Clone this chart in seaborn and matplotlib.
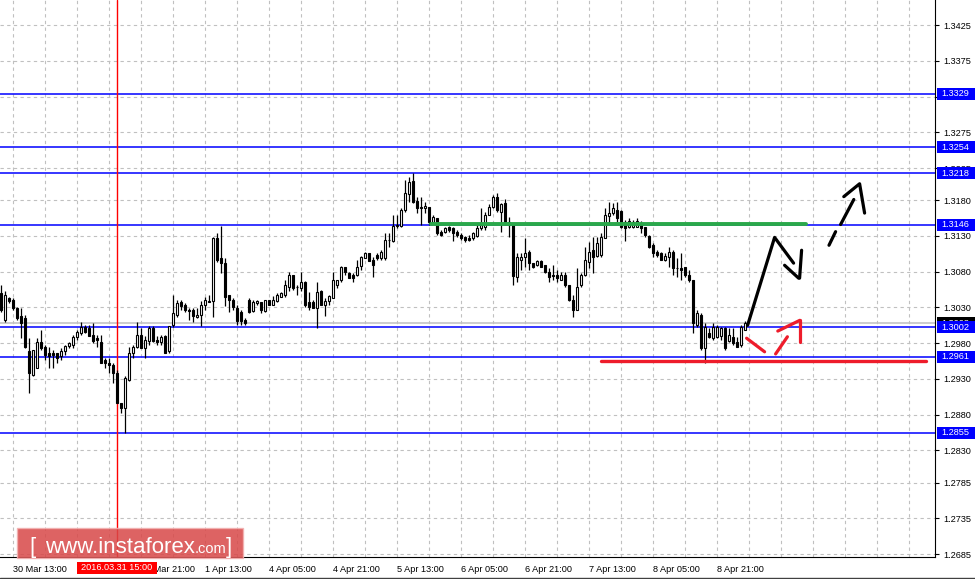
import numpy as np
import pandas as pd
import matplotlib
matplotlib.use('Agg')
import matplotlib.pyplot as plt
import matplotlib.transforms as mtransforms
from matplotlib.patches import Rectangle
from matplotlib.lines import Line2D
import seaborn as sns

# GBPUSD H1 candles, 30 Mar 10:00 -> 8 Apr
opens = [
    1.3050, 1.3012, 1.3043, 1.3040, 1.3029, 1.3018, 1.3015, 1.2969, 1.2936, 1.2946,
    1.2981, 1.2974, 1.2966, 1.2966, 1.2966, 1.2962, 1.2969, 1.2976, 1.2978, 1.2988,
    1.2994, 1.3002, 1.3001, 1.2991, 1.2987, 1.2981, 1.2957, 1.2953, 1.2950, 1.2938,
    1.2896, 1.2890, 1.2929, 1.2967, 1.2974, 1.2992, 1.2973, 1.2983, 1.3001, 1.2984,
    1.2981, 1.2990, 1.2969, 1.3005, 1.3019, 1.3037, 1.3034, 1.3026, 1.3027, 1.3016,
    1.3019, 1.3033, 1.3039, 1.3039, 1.3127, 1.3099, 1.3092, 1.3047, 1.3040, 1.3029,
    1.3023, 1.3012, 1.3041, 1.3025, 1.3036, 1.3037, 1.3025, 1.3040, 1.3034, 1.3039,
    1.3044, 1.3048, 1.3058, 1.3075, 1.3058, 1.3057, 1.3065, 1.3037, 1.3037, 1.3029,
    1.3053, 1.3034, 1.3039, 1.3043, 1.3061, 1.3068, 1.3086, 1.3078, 1.3075, 1.3075,
    1.3088, 1.3099, 1.3106, 1.3096, 1.3104, 1.3099, 1.3099, 1.3124, 1.3123, 1.3144,
    1.3144, 1.3166, 1.3188, 1.3207, 1.3179, 1.3170, 1.3169, 1.3170, 1.3149, 1.3155,
    1.3135, 1.3135, 1.3142, 1.3141, 1.3135, 1.3132, 1.3128, 1.3127, 1.3127, 1.3130,
    1.3141, 1.3142, 1.3159, 1.3170, 1.3184, 1.3163, 1.3176, 1.3145, 1.3148, 1.3072,
    1.3097, 1.3100, 1.3107, 1.3092, 1.3089, 1.3095, 1.3089, 1.3079, 1.3076, 1.3075,
    1.3069, 1.3075, 1.3062, 1.3040, 1.3027, 1.3061, 1.3075, 1.3093, 1.3110, 1.3102,
    1.3103, 1.3127, 1.3158, 1.3162, 1.3166, 1.3165, 1.3149, 1.3142, 1.3142, 1.3142,
    1.3148, 1.3142, 1.3130, 1.3117, 1.3107, 1.3106, 1.3097, 1.3100, 1.3107, 1.3085,
    1.3085, 1.3086, 1.3076, 1.3068, 1.3006, 1.3020, 1.2973, 1.2994, 1.2987, 1.2988,
    1.2990, 1.3001, 1.2983, 1.2988, 1.2981, 1.2977, 1.2999,
]
highs = [
    1.3061, 1.3053, 1.3044, 1.3043, 1.3030, 1.3029, 1.3019, 1.2987, 1.2970, 1.2987,
    1.2998, 1.2977, 1.2974, 1.2970, 1.2967, 1.2973, 1.2977, 1.2981, 1.2992, 1.2998,
    1.3009, 1.3006, 1.3005, 1.3008, 1.2991, 1.2991, 1.2960, 1.2959, 1.2952, 1.2942,
    1.2897, 1.2934, 1.2974, 1.2978, 1.3009, 1.3001, 1.2990, 1.3004, 1.3004, 1.2990,
    1.2991, 1.2992, 1.3004, 1.3048, 1.3040, 1.3040, 1.3036, 1.3029, 1.3029, 1.3029,
    1.3039, 1.3044, 1.3047, 1.3128, 1.3134, 1.3144, 1.3099, 1.3047, 1.3043, 1.3033,
    1.3026, 1.3015, 1.3043, 1.3041, 1.3040, 1.3037, 1.3041, 1.3041, 1.3046, 1.3050,
    1.3051, 1.3068, 1.3079, 1.3075, 1.3062, 1.3079, 1.3067, 1.3051, 1.3040, 1.3065,
    1.3054, 1.3043, 1.3047, 1.3079, 1.3069, 1.3088, 1.3086, 1.3079, 1.3078, 1.3097,
    1.3102, 1.3107, 1.3106, 1.3100, 1.3106, 1.3110, 1.3134, 1.3134, 1.3159, 1.3159,
    1.3169, 1.3208, 1.3212, 1.3218, 1.3184, 1.3184, 1.3177, 1.3170, 1.3159, 1.3155,
    1.3138, 1.3142, 1.3144, 1.3142, 1.3138, 1.3134, 1.3130, 1.3131, 1.3135, 1.3148,
    1.3169, 1.3163, 1.3174, 1.3187, 1.3190, 1.3176, 1.3181, 1.3156, 1.3148, 1.3106,
    1.3106, 1.3127, 1.3110, 1.3092, 1.3096, 1.3096, 1.3089, 1.3085, 1.3089, 1.3082,
    1.3079, 1.3079, 1.3062, 1.3047, 1.3085, 1.3078, 1.3114, 1.3121, 1.3128, 1.3128,
    1.3134, 1.3169, 1.3177, 1.3176, 1.3177, 1.3166, 1.3152, 1.3155, 1.3153, 1.3155,
    1.3151, 1.3142, 1.3131, 1.3120, 1.3110, 1.3107, 1.3106, 1.3114, 1.3110, 1.3099,
    1.3106, 1.3086, 1.3082, 1.3068, 1.3026, 1.3022, 1.3008, 1.3001, 1.3008, 1.3005,
    1.3002, 1.3002, 1.3001, 1.3001, 1.2988, 1.3005, 1.3011,
]
lows = [
    1.3023, 1.3009, 1.3036, 1.3026, 1.3012, 1.2987, 1.2973, 1.2911, 1.2934, 1.2945,
    1.2970, 1.2956, 1.2946, 1.2946, 1.2952, 1.2956, 1.2963, 1.2973, 1.2973, 1.2984,
    1.2991, 1.2994, 1.2990, 1.2980, 1.2974, 1.2953, 1.2946, 1.2939, 1.2924, 1.2897,
    1.2882, 1.2855, 1.2927, 1.2959, 1.2973, 1.2973, 1.2960, 1.2978, 1.2981, 1.2977,
    1.2977, 1.2967, 1.2967, 1.3002, 1.3016, 1.3026, 1.3023, 1.3012, 1.3009, 1.3015,
    1.3004, 1.3026, 1.3037, 1.3016, 1.3093, 1.3078, 1.3032, 1.3023, 1.3026, 1.3006,
    1.3005, 1.3005, 1.3022, 1.3023, 1.3033, 1.3022, 1.3023, 1.3033, 1.3033, 1.3037,
    1.3044, 1.3044, 1.3053, 1.3054, 1.3048, 1.3053, 1.3030, 1.3027, 1.3029, 1.3001,
    1.3033, 1.3018, 1.3034, 1.3043, 1.3057, 1.3065, 1.3075, 1.3071, 1.3065, 1.3074,
    1.3083, 1.3099, 1.3095, 1.3072, 1.3096, 1.3096, 1.3097, 1.3114, 1.3121, 1.3141,
    1.3142, 1.3163, 1.3177, 1.3176, 1.3162, 1.3145, 1.3162, 1.3145, 1.3149, 1.3132,
    1.3130, 1.3134, 1.3135, 1.3123, 1.3128, 1.3124, 1.3121, 1.3123, 1.3124, 1.3128,
    1.3138, 1.3138, 1.3159, 1.3169, 1.3163, 1.3135, 1.3145, 1.3128, 1.3061, 1.3065,
    1.3082, 1.3086, 1.3082, 1.3085, 1.3088, 1.3086, 1.3078, 1.3065, 1.3068, 1.3065,
    1.3068, 1.3058, 1.3039, 1.3016, 1.3026, 1.3058, 1.3074, 1.3085, 1.3078, 1.3100,
    1.3100, 1.3127, 1.3148, 1.3159, 1.3149, 1.3141, 1.3123, 1.3141, 1.3141, 1.3142,
    1.3134, 1.3128, 1.3113, 1.3100, 1.3100, 1.3096, 1.3095, 1.3086, 1.3075, 1.3072,
    1.3068, 1.3072, 1.3065, 1.2994, 1.3002, 1.2970, 1.2952, 1.2987, 1.2985, 1.2987,
    1.2984, 1.2971, 1.2981, 1.2978, 1.2974, 1.2974, 1.2998,
]
closes = [
    1.3026, 1.3047, 1.3039, 1.3029, 1.3015, 1.3008, 1.2974, 1.2938, 1.2970, 1.2981,
    1.2973, 1.2963, 1.2962, 1.2963, 1.2960, 1.2969, 1.2976, 1.2980, 1.2988, 1.2995,
    1.3002, 1.2995, 1.2990, 1.2983, 1.2984, 1.2953, 1.2953, 1.2950, 1.2938, 1.2897,
    1.2890, 1.2931, 1.2967, 1.2974, 1.2991, 1.2973, 1.2984, 1.3001, 1.2983, 1.2981,
    1.2988, 1.2967, 1.3004, 1.3022, 1.3036, 1.3032, 1.3026, 1.3025, 1.3018, 1.3020,
    1.3033, 1.3040, 1.3037, 1.3127, 1.3097, 1.3092, 1.3044, 1.3040, 1.3030, 1.3011,
    1.3011, 1.3008, 1.3023, 1.3037, 1.3039, 1.3027, 1.3040, 1.3034, 1.3041, 1.3047,
    1.3050, 1.3062, 1.3076, 1.3057, 1.3058, 1.3065, 1.3034, 1.3030, 1.3029, 1.3051,
    1.3034, 1.3039, 1.3046, 1.3068, 1.3068, 1.3086, 1.3079, 1.3071, 1.3071, 1.3086,
    1.3100, 1.3106, 1.3095, 1.3089, 1.3099, 1.3107, 1.3124, 1.3125, 1.3144, 1.3146,
    1.3166, 1.3190, 1.3205, 1.3177, 1.3169, 1.3169, 1.3172, 1.3149, 1.3156, 1.3134,
    1.3132, 1.3141, 1.3138, 1.3134, 1.3131, 1.3127, 1.3124, 1.3124, 1.3134, 1.3141,
    1.3146, 1.3160, 1.3170, 1.3184, 1.3166, 1.3174, 1.3148, 1.3149, 1.3074, 1.3100,
    1.3100, 1.3106, 1.3092, 1.3086, 1.3095, 1.3086, 1.3079, 1.3072, 1.3074, 1.3071,
    1.3076, 1.3061, 1.3040, 1.3027, 1.3058, 1.3076, 1.3096, 1.3107, 1.3100, 1.3120,
    1.3128, 1.3159, 1.3162, 1.3169, 1.3155, 1.3142, 1.3141, 1.3151, 1.3149, 1.3151,
    1.3141, 1.3131, 1.3114, 1.3106, 1.3104, 1.3097, 1.3102, 1.3107, 1.3085, 1.3085,
    1.3083, 1.3075, 1.3068, 1.3008, 1.3022, 1.2973, 1.3002, 1.2988, 1.3002, 1.3002,
    1.3001, 1.2973, 1.2991, 1.2980, 1.2974, 1.3002, 1.3008,
]

levels = [1.3329, 1.3254, 1.3218, 1.3146, 1.3002, 1.2961, 1.2855]
current_price = 1.3008
price_ticks = [1.3425, 1.3375, 1.3325, 1.3275, 1.3225, 1.3180, 1.3130, 1.3080,
               1.3030, 1.2980, 1.2930, 1.2880, 1.2830, 1.2785, 1.2735, 1.2685]
# 1.3325 sits fully under the 1.3329 level box, so its label is not shown
price_labels = ['1.3425', '1.3375', '', '1.3275', '1.3225', '1.3180', '1.3130', '1.3080',
                '1.3030', '1.2980', '1.2930', '1.2880', '1.2830', '1.2785', '1.2735', '1.2685']
time_tick_bars = [3, 19, 35, 51, 67, 83, 99, 115, 131, 147, 163, 179]
# 31 Mar 05:00 is fully covered by the marked-time box
time_tick_labels = ['30 Mar 13:00', '', '31 Mar 21:00', '1 Apr 13:00',
                    '4 Apr 05:00', '4 Apr 21:00', '5 Apr 13:00', '6 Apr 05:00',
                    '6 Apr 21:00', '7 Apr 13:00', '8 Apr 05:00', '8 Apr 21:00']
grid_bars = list(range(3, 234, 8))
marked_bar = 29
marked_label = '2016.03.31 15:00'

# hand drawn levels / forecast strokes (bar index, price)
green_bars, green_prices = [107.5, 201.25], [1.3147, 1.3147]
red_bars, red_prices = [150.0, 231.25], [1.2955, 1.2955]
black_strokes = [
    ([186.75, 193.5, 198.25], [1.3005, 1.3128, 1.3092]),
    ([196.0, 199.5], [1.3089, 1.3071]),
    ([200.25, 199.75], [1.3110, 1.3071]),
]
black_dash_strokes = [
    ([207.1, 208.75], [1.3117, 1.3136]),
    ([210.0, 213.3], [1.3146, 1.3181]),
    ([210.8, 214.75, 216.0], [1.3185, 1.3203, 1.3162]),
]
red_strokes = [
    ([186.5, 191.0], [1.2987, 1.2968]),
    ([193.75, 196.7], [1.2965, 1.2989]),
    ([194.3, 199.8], [1.2997, 1.3012]),
    ([199.8, 199.8], [1.3013, 1.2982]),
]

sns.set_theme(style='white')
plt.rcParams['font.family'] = ['Liberation Sans', 'DejaVu Sans']
fs = 6.6

df = pd.DataFrame({'open': opens, 'high': highs, 'low': lows, 'close': closes})
df['bar'] = np.arange(len(df))
df['up'] = df['close'] >= df['open']

fig = plt.figure(figsize=(9.75, 5.79), dpi=100)
ax = fig.add_axes([0, 22 / 579, 935 / 975, 557 / 579])
ylo, yhi = 1.2681, 1.3460
ax.set_xlim(-0.15, 233.6)
ax.set_ylim(ylo, yhi)
per_px = (yhi - ylo) / 557

# levels
for lvl in levels:
    ax.axhline(lvl, color='#0000ff', lw=1.1, zorder=2)
ax.axhline(current_price, color='#c0c0c0', lw=1.1, zorder=1.8)
ax.axvline(marked_bar, color='#ff0000', lw=1.0, zorder=2)

# candles
body_low = df[['open', 'close']].min(axis=1)
body_h = (df['close'] - df['open']).abs().clip(lower=0.00007)
ax.vlines(df['bar'], df['low'], df['high'], color='black', lw=0.9, zorder=3)
ax.bar(df['bar'], body_h, bottom=body_low, width=0.5,
       color=np.where(df['up'], 'white', 'black'), edgecolor='black',
       linewidth=0.8, zorder=4)

# drawn analysis
sns.lineplot(x=green_bars, y=green_prices, ax=ax, color='#2aa84a', lw=2.8,
             sort=False, estimator=None, legend=False, zorder=5)
sns.lineplot(x=red_bars, y=red_prices, ax=ax, color='#ee1c2b', lw=2.4,
             sort=False, estimator=None, legend=False, zorder=5)
for xs, ys in black_strokes + black_dash_strokes:
    sns.lineplot(x=xs, y=ys, ax=ax, color='black', lw=2.3, sort=False,
                 estimator=None, legend=False, zorder=5)
for xs, ys in red_strokes:
    sns.lineplot(x=xs, y=ys, ax=ax, color='#ee1c2b', lw=2.3, sort=False,
                 estimator=None, legend=False, zorder=5)

# axes styling
for side in ['left', 'top']:
    ax.spines[side].set_visible(False)
for side in ['right', 'bottom']:
    ax.spines[side].set_color('black')
    ax.spines[side].set_linewidth(0.8)
ax.yaxis.tick_right()
ax.set_yticks(price_ticks)
ax.set_yticklabels(price_labels)
ax.set_xticks(time_tick_bars)
ax.set_xticklabels(time_tick_labels, ha='left')
ax.set_xticks(grid_bars, minor=True)
ax.tick_params(axis='y', direction='out', length=3, width=0.8, pad=3,
               labelsize=fs, colors='black')
ax.tick_params(axis='x', which='major', direction='out', length=3, width=0.8,
               pad=3, labelsize=fs, colors='black')
ax.tick_params(axis='x', which='minor', length=0)
ax.grid(axis='y', which='major', color='#c0c0c0', linestyle=(0, (3, 3)), lw=0.8)
ax.grid(axis='x', which='both', color='#c0c0c0', linestyle=(0, (3, 3)), lw=0.8)
ax.set_xlabel('')
ax.set_ylabel('')

# price labels on the right axis
ty = mtransforms.blended_transform_factory(ax.transAxes, ax.transData)
ax.add_patch(Rectangle((937 / 935, current_price - 6 * per_px), 38 / 935, 12 * per_px,
                       transform=ty, fc='black', ec='none', clip_on=False, zorder=6))
ax.text(941 / 935, current_price, f'{current_price:.4f}', transform=ty, color='white',
        va='center', ha='left', fontsize=fs, zorder=6.5, clip_on=False)
for lvl in levels:
    ax.add_patch(Rectangle((937 / 935, lvl - 6 * per_px), 38 / 935, 12 * per_px,
                           transform=ty, fc='#0000ff', ec='none', clip_on=False, zorder=7))
    ax.text(941 / 935, lvl, f'{lvl:.4f}', transform=ty, color='white',
            va='center', ha='left', fontsize=fs, zorder=8, clip_on=False)

# marked time label
tx = mtransforms.blended_transform_factory(ax.transData, ax.transAxes)
ax.add_patch(Rectangle((marked_bar - 10, -17 / 557), 20, 12 / 557, transform=tx,
                       fc='#ff0000', ec='none', clip_on=False, zorder=7))
ax.text(marked_bar, -11 / 557, marked_label, transform=tx, color='white',
        va='center', ha='center', fontsize=fs, zorder=8, clip_on=False)

# bottom frame line
fig.add_artist(Line2D([0, 1], [1.5 / 579, 1.5 / 579], color='#404040', lw=1.0))

# watermark
fig.add_artist(Rectangle((17 / 975, 1 - 558 / 579), 226 / 975, 30 / 579,
                         transform=fig.transFigure, fc='#d84848', ec='#f2b0b0',
                         lw=1.0, alpha=0.85))
fig.text(29 / 975, 1 - 553 / 579, '[', color='white', fontsize=16,
         family='Liberation Sans', va='baseline', ha='left')
fig.text(45 / 975, 1 - 553 / 579, 'www.instaforex', color='white', fontsize=16,
         family='Liberation Sans', va='baseline', ha='left')
fig.text(195 / 975, 1 - 553 / 579, '.com', color='white', fontsize=10.5,
         family='Liberation Sans', va='baseline', ha='left')
fig.text(226 / 975, 1 - 553 / 579, ']', color='white', fontsize=16,
         family='Liberation Sans', va='baseline', ha='left')

fig.savefig('out.png', dpi=100)
